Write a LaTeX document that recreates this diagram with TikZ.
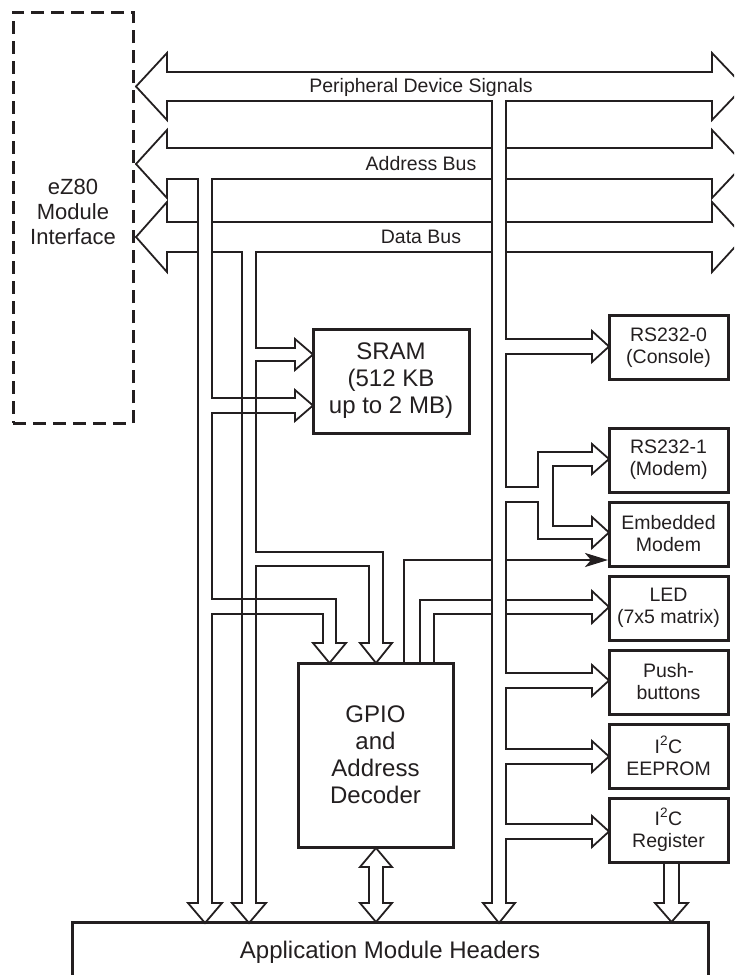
\documentclass[tikz,border=0pt]{standalone}
\usepackage{fontspec}
\setmainfont{Liberation Sans}
\usetikzlibrary{arrows.meta, positioning}
\definecolor{ink}{HTML}{231F20}

\begin{document}
\begin{tikzpicture}[
        x=1pt, y=-1pt, color=ink,
        node distance=10pt,
        box/.style={draw, line width=3pt, outer sep=0pt, inner sep=0pt, align=center,
            font=\fontsize{24}{27}\selectfont},
        dev/.style={box, minimum width=119pt, minimum height=64pt, font=\fontsize{19.5}{22}\selectfont},
        bus/.style={line width=1.8pt, line join=miter},
        sig/.style={line width=2.6pt},
        lbl/.style={font=\fontsize{19.5}{22}\selectfont, inner sep=0pt}
    ]
    \useasboundingbox (0,0) rectangle (734,975);
    \clip (0,0) rectangle (734,975);

    \node[draw, line width=3pt, dash pattern=on 13pt off 7pt, minimum width=120pt, minimum height=411pt] (ezbox) at (73,217.5) {};
    \node[align=center, font=\fontsize{22}{25}\selectfont] (eztext) at (73,212) {eZ80\\Module\\Interface};

    \node[box, minimum width=156pt, minimum height=104pt] (sram) at (391,381) {SRAM\\(512 KB\\up to 2 MB)};
    \node[box, minimum width=155pt, minimum height=184pt] (gpio) at (375.5,755) {GPIO\\and\\Address\\Decoder};
    \node[box, minimum width=636pt, minimum height=60pt] (amh) at (390,952) {Application Module Headers};

    \node[dev] (rs0) at (668.5,347.5) {RS232-0\\(Console)};
    \node[dev] (rs1) at (668.5,460) {RS232-1\\(Modem)};
    \node[dev, below=of rs1] (emb) {Embedded\\Modem};
    \node[dev, below=of emb] (led) {LED\\(7x5 matrix)};
    \node[dev, below=of led] (push) {Push-\\buttons};
    \node[dev, below=of push] (eep) {I\textsuperscript{2}C\\EEPROM};
    \node[dev, below=of eep] (reg) {I\textsuperscript{2}C\\Register};

    \node[lbl] (pds) at (421,87) {Peripheral Device Signals};
    \node[lbl] (adb) at (421,164) {Address Bus};
    \node[lbl] (dtb) at (421,237) {Data Bus};

    % peripheral device signals
    \draw[bus] (499,923) -- (483,903) -- (492,903) -- (492,101) -- (167,101) -- (167,120) -- (136,86.5) -- (167,53) -- (167,72)
        -- (712,72) -- (712,53) -- (744,86.5) -- (712,120) -- (712,101) -- (506,101)
        -- (506,339) -- (592,339) -- (592,331) -- (609,346.5) -- (592,362) -- (592,354) -- (506,354)
        -- (506,487) -- (538,487) -- (538,452) -- (592,452) -- (592,444) -- (609,459) -- (592,474) -- (592,466) -- (553,466)
        -- (553,526) -- (592,526) -- (592,517) -- (609,532.5) -- (592,548) -- (592,539) -- (538,539) -- (538,502) -- (506,502)
        -- (506,673) -- (592,673) -- (592,665) -- (609,680.5) -- (592,696) -- (592,688) -- (506,688)
        -- (506,749) -- (592,749) -- (592,741) -- (609,756.5) -- (592,772) -- (592,764) -- (506,764)
        -- (506,824) -- (592,824) -- (592,816) -- (609,831.5) -- (592,847) -- (592,839) -- (506,839)
        -- (506,903) -- (515,903) -- cycle;

    % address bus
    \draw[bus] (492,148) -- (167,148) -- (167,130) -- (136,164) -- (167,198) -- (167,179) -- (198,179)
        -- (198,903) -- (188,903) -- (205,923) -- (222,903) -- (212,903)
        -- (212,614) -- (323,614) -- (323,643) -- (313,643) -- (329.5,663) -- (346,643) -- (336,643) -- (336,599) -- (212,599)
        -- (212,413) -- (295,413) -- (295,421) -- (313,405.5) -- (295,390) -- (295,398) -- (212,398)
        -- (212,179) -- (492,179);
    \draw[bus] (506,148) -- (712,148) -- (712,130) -- (744,164) -- (712,198) -- (712,179) -- (506,179);

    % data bus
    \draw[bus] (198,222) -- (167,222) -- (167,202) -- (136,237) -- (167,272) -- (167,252) -- (198,252);
    \draw[bus] (212,222) -- (492,222);
    \draw[bus] (506,222) -- (712,222) -- (712,202) -- (744,237) -- (712,272) -- (712,252) -- (506,252);
    \draw[bus] (212,252) -- (242,252) -- (242,903) -- (232,903) -- (249,923) -- (266,903) -- (256,903)
        -- (256,566) -- (369,566) -- (369,643) -- (360,643) -- (376,663) -- (392,643) -- (383,643) -- (383,552) -- (256,552)
        -- (256,361) -- (295,361) -- (295,370) -- (313,354.5) -- (295,339) -- (295,348) -- (256,348)
        -- (256,252) -- (492,252);

    \draw[sig] (404,663) |- (492,560);
    \draw[sig, -{Stealth[length=23pt, width=14pt, inset=6pt]}] (506,560) -- (608,560);

    \draw[bus] (420,663) |- (492,600);
    \draw[bus] (434,663) |- (492,614);
    \draw[bus] (506,600) -- (592,600) -- (592,591) -- (609,607) -- (592,623) -- (592,614) -- (506,614);

    \draw[bus] (376,848) -- (392,867) -- (383,867) -- (383,903) -- (392,903) -- (376,922) -- (360,903) -- (369,903) -- (369,867) -- (360,867) -- cycle;
    \draw[bus] (664,862) -- (664,903) -- (655,903) -- (671.5,922) -- (688,903) -- (679,903) -- (679,862);
\end{tikzpicture}
\end{document}
